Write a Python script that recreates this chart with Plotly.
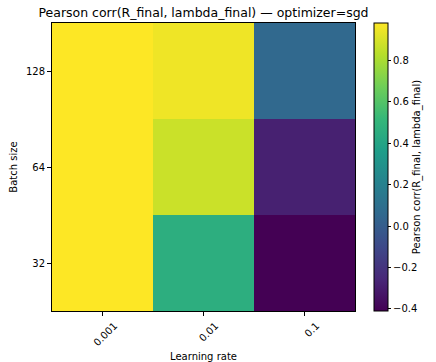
import plotly.graph_objects as go

learning_rates = ["0.001", "0.01", "0.1"]
batch_sizes = ["32", "64", "128"]
# rows = batch sizes (32, 64, 128), cols = learning rates
corr_32 = [0.98, 0.46, -0.41]
corr_64 = [0.98, 0.87, -0.285]
corr_128 = [0.98, 0.95, 0.06]

z = [corr_32, corr_64, corr_128]

font = "DejaVu Sans"
fig = go.Figure(go.Heatmap(
    x=learning_rates, y=batch_sizes, z=z,
    colorscale="Viridis", zmin=-0.41, zmax=0.98,
    xgap=0, ygap=0, hoverinfo="skip",
    colorbar=dict(
        x=(374 - 52) / 303, xanchor="left", xref="paper",
        y=0.5, yanchor="middle", len=1.0, lenmode="fraction",
        xpad=0, ypad=0,
        thickness=14, outlinecolor="black", outlinewidth=1,
        tickvals=[-0.4, -0.2, 0.0, 0.2, 0.4, 0.6, 0.8],
        ticktext=["\u22120.4", "\u22120.2", "0.0", "0.2", "0.4", "0.6", "0.8"],
        ticks="outside", ticklen=3, tickcolor="black",
        tickfont=dict(family=font, size=10, color="black"),
        title=dict(text="Pearson corr(R_final, lambda_final)", side="right",
                   font=dict(family=font, size=10, color="black")),
    ),
))

fig.update_layout(
    width=436, height=362,
    margin=dict(l=52, r=81, t=23, b=51, autoexpand=False),
    paper_bgcolor="white", plot_bgcolor="white",
    title=dict(text="Pearson corr(R_final, lambda_final) \u2014 optimizer=sgd",
               x=(52 + 355) / 2 / 436, xanchor="center", y=1 - 13 / 362, yanchor="middle",
               font=dict(family=font, size=12.5, color="black")),
    font=dict(family=font, size=10, color="black"),
    xaxis=dict(title=dict(text="Learning rate", standoff=6, font=dict(size=10)),
               tickangle=-45, ticks="outside", ticklen=4, tickcolor="black",
               ticklabelshift=12,
               showline=True, linecolor="black", linewidth=1, mirror=True,
               tickfont=dict(size=10), showgrid=False, automargin=False),
    yaxis=dict(title=dict(text="Batch size", standoff=6, font=dict(size=10)),
               ticks="outside", ticklen=4, tickcolor="black",
               showline=True, linecolor="black", linewidth=1, mirror=True,
               tickfont=dict(size=10), showgrid=False, automargin=False),
)

fig.write_html("out.html", config={"displayModeBar": False},
               post_script="document.body.style.margin='0';document.body.style.overflow='hidden';")
